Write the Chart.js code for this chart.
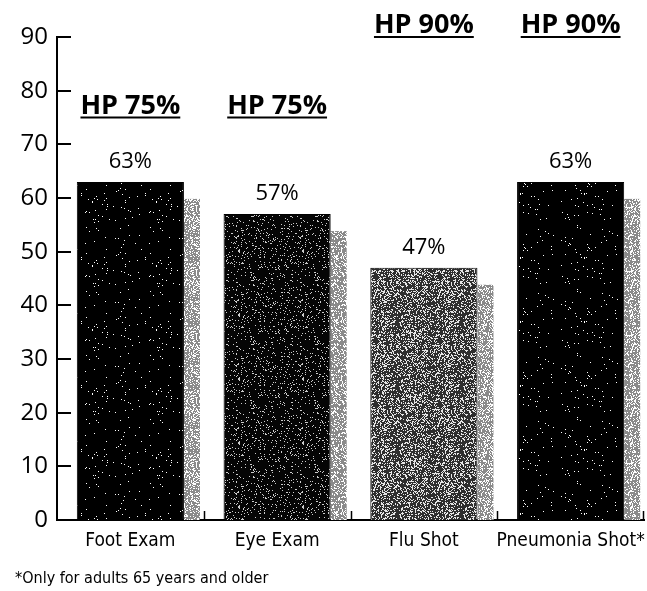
<!DOCTYPE html>
<html>
<head>
<meta charset="utf-8">
<script src="https://cdn.jsdelivr.net/npm/chart.js@4.4.1/dist/chart.umd.min.js"></script>
<style>
  html, body { margin: 0; padding: 0; background: #fff; }
  #wrap { width: 647px; height: 591px; }
</style>
</head>
<body>
<div id="wrap"><canvas id="chart" width="647" height="591"></canvas></div>
<script>
// data
const categories = ["Foot Exam", "Eye Exam", "Flu Shot", "Pneumonia Shot*"];
const rates = [63, 57, 47, 63];
const targets = [75, 75, 90, 90];
const yTicks = [0, 10, 20, 30, 40, 50, 60, 70, 80, 90];
const footnote = "*Only for adults 65 years and older";

const numFont = "'Open Sans', 'Noto Sans', sans-serif";
const narrowFont = "'DejaVu Sans Condensed', 'Liberation Sans Narrow', sans-serif";

// speckled fill like the printed scan (seeded, so every run looks the same)
function stipple(base, dot, density, seed) {
    const c = document.createElement("canvas");
    c.width = 64;
    c.height = 64;
    const g = c.getContext("2d");
    g.fillStyle = base;
    g.fillRect(0, 0, 64, 64);
    let s = seed;
    g.fillStyle = dot;
    for (let y = 0; y < 64; y++) {
        for (let x = 0; x < 64; x++) {
            s = (s * 1103515245 + 12345) % 2147483648;
            if (s / 2147483648 < density) g.fillRect(x, y, 1, 1);
        }
    }
    return g.createPattern(c, "repeat");
}

const fills = [
    stipple("#000", "#fff", 0.015, 7),
    stipple("#050505", "#ccc", 0.08, 11),
    stipple("#2e2e2e", "#e6e6e6", 0.30, 19),
    stipple("#000", "#fff", 0.015, 23),
];
const shadowFill = stipple("#8a8a8a", "#fff", 0.3, 31);

// grey offset stripe on the right side of every bar
const barShadow = {
    id: "barShadow",
    beforeDatasetsDraw(chart) {
        const ctx = chart.ctx;
        const meta = chart.getDatasetMeta(0);
        ctx.save();
        ctx.fillStyle = shadowFill;
        meta.data.forEach((bar) => {
            const right = bar.x + bar.width / 2;
            const top = bar.y + 17;
            ctx.fillRect(right, top, 16, bar.base - top);
        });
        ctx.restore();
    },
};

// tick marks pointing into the plot, as in the printed chart
const innerTicks = {
    id: "innerTicks",
    afterDraw(chart) {
        const ctx = chart.ctx;
        const x = chart.scales.x;
        const y = chart.scales.y;
        const area = chart.chartArea;
        ctx.save();
        ctx.strokeStyle = "#000";
        ctx.lineWidth = 2;
        ctx.beginPath();
        yTicks.forEach((v) => {
            const py = Math.round(y.getPixelForValue(v));
            ctx.moveTo(area.left, py);
            ctx.lineTo(area.left + 14, py);
        });
        ctx.stroke();
        ctx.lineWidth = 1.5;
        ctx.beginPath();
        categories.forEach((c, i) => {
            let bx;
            if (i < categories.length - 1) {
                bx = (x.getPixelForValue(i) + x.getPixelForValue(i + 1)) / 2;
            } else {
                bx = area.right - 1;
            }
            bx = Math.round(bx) + 0.5;
            ctx.moveTo(bx, area.bottom);
            ctx.lineTo(bx, area.bottom - 9);
        });
        ctx.stroke();
        ctx.restore();
    },
};

// value above each bar and underlined target text
const barLabels = {
    id: "barLabels",
    afterDatasetsDraw(chart) {
        const ctx = chart.ctx;
        const meta = chart.getDatasetMeta(0);
        const yScale = chart.scales.y;
        ctx.save();
        ctx.fillStyle = "#000";
        ctx.textAlign = "center";
        meta.data.forEach((bar, i) => {
            ctx.font = "22px " + numFont;
            ctx.textBaseline = "bottom";
            ctx.fillText(rates[i] + "%", bar.x, bar.y - 9);

            const ty = yScale.getPixelForValue(targets[i]);
            const txt = "HP " + targets[i] + "%";
            ctx.font = "bold 27px " + numFont;
            ctx.textBaseline = "alphabetic";
            ctx.fillText(txt, bar.x, ty - 4);
            const w = ctx.measureText(txt).width;
            ctx.fillRect(bar.x - w / 2, ty - 1, w, 2);
        });
        ctx.restore();
    },
};

new Chart(document.getElementById("chart"), {
    type: "bar",
    data: {
        labels: categories,
        datasets: [{
            data: rates,
            backgroundColor: fills,
            borderColor: "#000",
            borderWidth: 1,
            categoryPercentage: 0.73,
            barPercentage: 1,
        }],
    },
    options: {
        responsive: false,
        devicePixelRatio: 1,
        animation: false,
        layout: { padding: { top: 37, right: 3, left: 15, bottom: 3 } },
        plugins: {
            legend: { display: false },
            tooltip: { enabled: false },
            title: {
                display: true,
                text: footnote,
                position: "bottom",
                align: "start",
                color: "#000",
                font: { family: narrowFont, size: 16, weight: "normal" },
                padding: { top: 6, bottom: 0 },
            },
        },
        scales: {
            x: {
                afterFit(axis) {
                    axis.paddingLeft = 0;
                    axis.paddingRight = 0;
                },
                grid: { display: false, drawTicks: false, tickLength: 0 },
                border: { display: true, color: "#000", width: 2 },
                ticks: {
                    color: "#000",
                    padding: 10,
                    maxRotation: 0,
                    minRotation: 0,
                    autoSkip: false,
                    font: { family: narrowFont, size: 19 },
                },
            },
            y: {
                min: 0,
                max: 90,
                afterBuildTicks(axis) {
                    axis.ticks = yTicks.map((v) => ({ value: v }));
                },
                afterFit(axis) {
                    axis.width = 42;
                },
                grid: { display: false, drawTicks: false, tickLength: 0 },
                border: { display: true, color: "#000", width: 2 },
                ticks: {
                    color: "#000",
                    padding: 9,
                    font: { family: numFont, size: 24 },
                },
            },
        },
    },
    plugins: [barShadow, innerTicks, barLabels],
});
</script>
</body>
</html>
